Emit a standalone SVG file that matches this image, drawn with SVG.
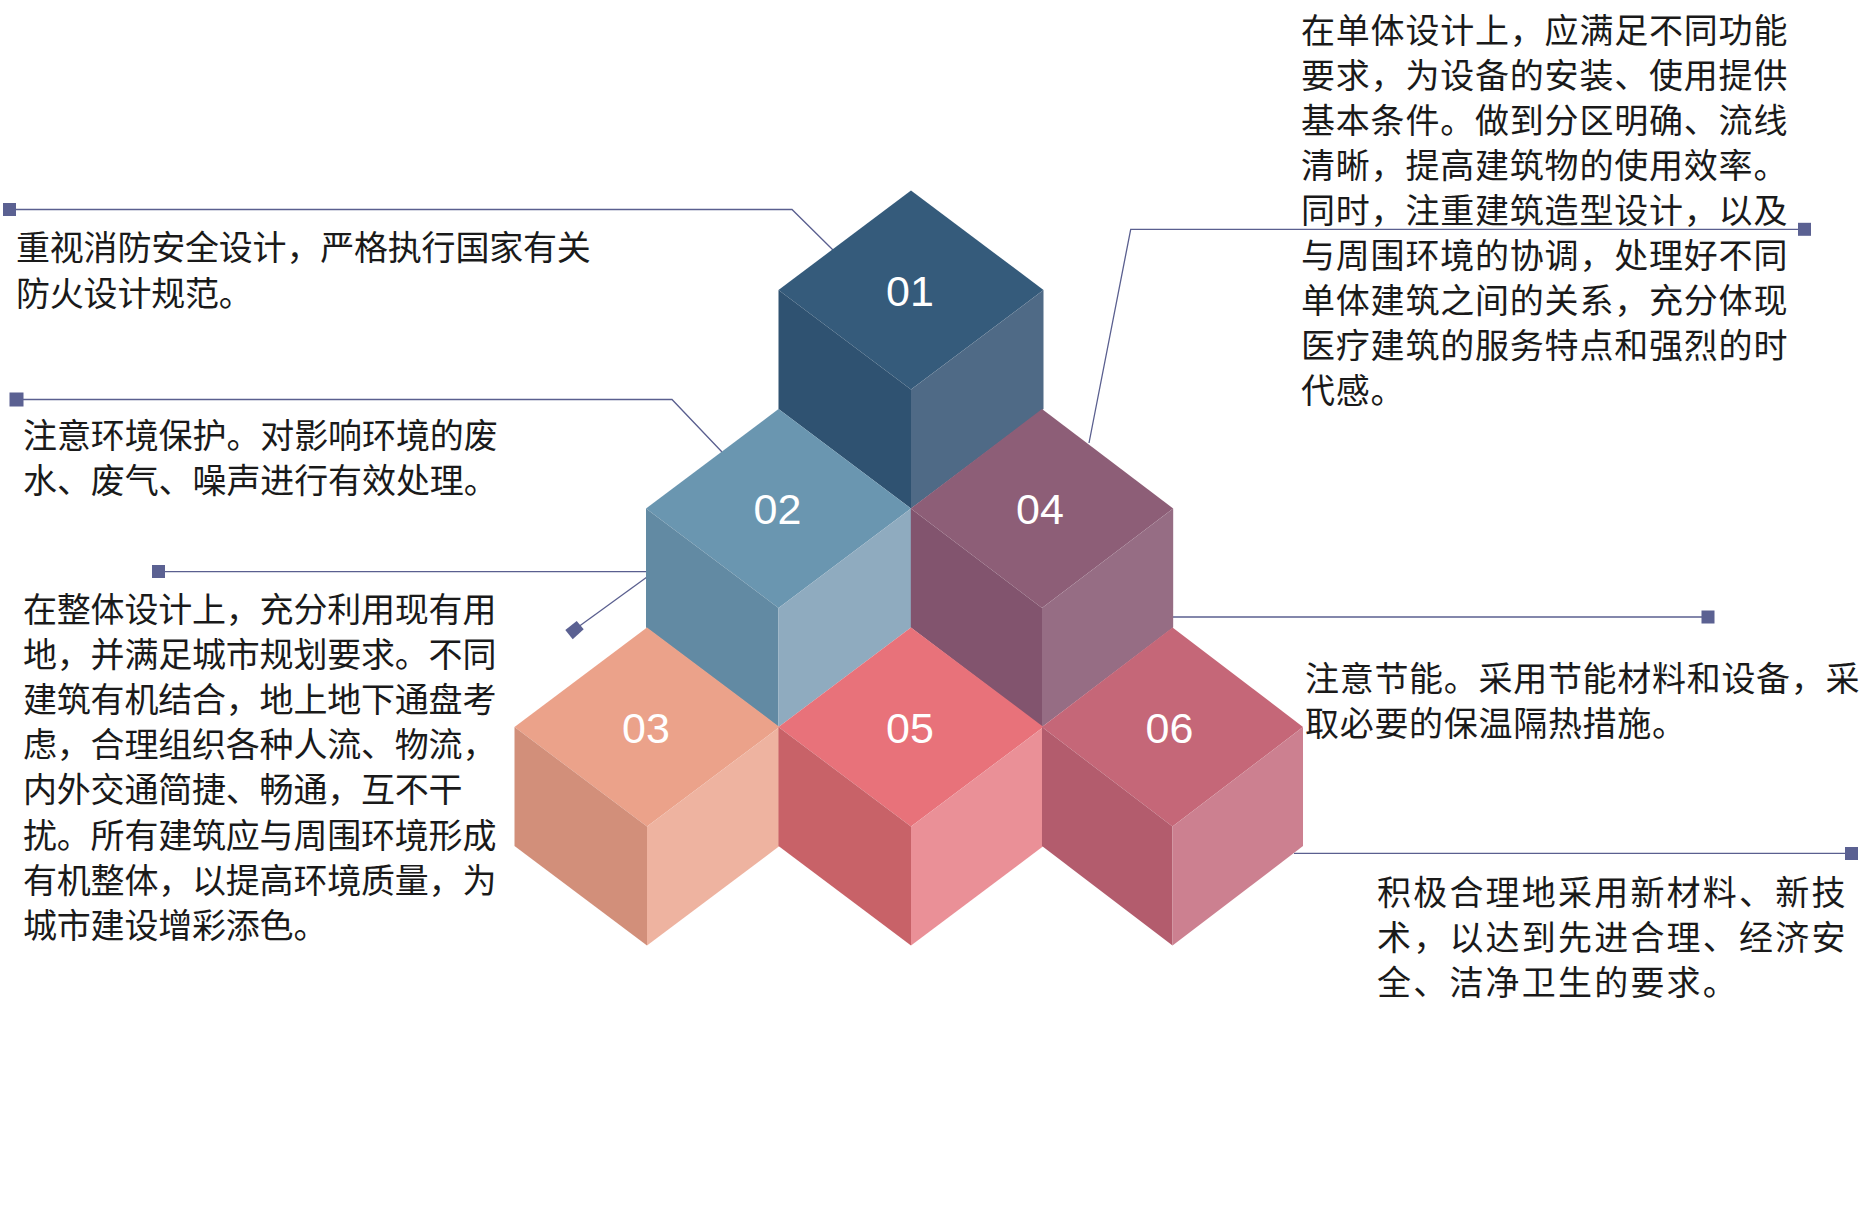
<svg xmlns="http://www.w3.org/2000/svg" width="1875" height="1224" viewBox="0 0 1875 1224">
<style>
.bg{fill:#ffffff}
.txt{font-family:"Noto Sans CJK SC","Noto Sans",sans-serif;font-size:34px;fill:#1a1a1a}
.num{font-family:"Liberation Sans",Arial,sans-serif;font-size:43px;fill:#ffffff;text-anchor:middle}
.ln{fill:none;stroke:#5a5f8f;stroke-width:1.3}
.mk{fill:#5b6192}
.c1t{fill:#355b7b}.c1l{fill:#2f5271}.c1r{fill:#4f6a86}
.c2t{fill:#6a96b0}.c2l{fill:#628aa3}.c2r{fill:#8fabbf}
.c4t{fill:#8d5e77}.c4l{fill:#82546e}.c4r{fill:#966d84}
.c3t{fill:#eba28a}.c3l{fill:#d28f7a}.c3r{fill:#eeb3a0}
.c5t{fill:#e8727a}.c5l{fill:#c86268}.c5r{fill:#ea9097}
.c6t{fill:#c56778}.c6l{fill:#b35c6d}.c6r{fill:#cc8090}
</style>
<defs>
<polygon id="ft" points="0,-99.5 132.5,0 0,99.5 -132.5,0"/>
<polygon id="fl" points="-132.5,0 0,99.5 0,218.5 -132.5,119"/>
<polygon id="fr" points="0,99.5 132.5,0 132.5,119 0,218.5"/>
</defs>
<rect class="bg" x="0" y="0" width="1875" height="1224"/>

<g id="connectors">
<polyline class="ln" points="10,209.5 792,209.5 833,250"/>
<rect class="mk" x="3" y="203" width="13" height="13"/>
<polyline class="ln" points="16,399.5 672,399.5 722,452"/>
<rect class="mk" x="9.5" y="392.5" width="14" height="14"/>
<polyline class="ln" points="158,571.7 647,571.7"/>
<rect class="mk" x="152" y="565" width="13" height="13"/>
<line class="ln" x1="647" y1="577" x2="574" y2="630"/>
<polygon class="mk" points="576.7,621 583.7,629.3 572.7,639.3 565.3,630"/>
<polyline class="ln" points="1089,443 1130.7,229.3 1804,229.3"/>
<rect class="mk" x="1798" y="222.8" width="13" height="13"/>
<line class="ln" x1="1172" y1="617" x2="1708" y2="617"/>
<rect class="mk" x="1701.5" y="610.5" width="13" height="13"/>
<line class="ln" x1="1294" y1="853.3" x2="1851" y2="853.3"/>
<rect class="mk" x="1845" y="847" width="13" height="13"/>
</g>

<g id="cube01" transform="translate(911,290)">
<use href="#ft" class="c1t"/><use href="#fl" class="c1l"/><use href="#fr" class="c1r"/>
<text class="num" x="-1" y="15.5">01</text>
</g>
<g id="cube02" transform="translate(778.5,508.5)">
<use href="#ft" class="c2t"/><use href="#fl" class="c2l"/><use href="#fr" class="c2r"/>
<text class="num" x="-1" y="15.5">02</text>
</g>
<g id="cube04" transform="translate(1042,508.5)">
<g transform="scale(0.99,1)"><use href="#ft" class="c4t"/><use href="#fl" class="c4l"/><use href="#fr" class="c4r"/></g>
<text class="num" x="-2" y="15.5">04</text>
</g>
<g id="cube03" transform="translate(647,727)">
<use href="#ft" class="c3t"/><use href="#fl" class="c3l"/><use href="#fr" class="c3r"/>
<text class="num" x="-1" y="15.5">03</text>
</g>
<g id="cube05" transform="translate(911,727)">
<use href="#ft" class="c5t"/><use href="#fl" class="c5l"/><use href="#fr" class="c5r"/>
<text class="num" x="-1" y="15.5">05</text>
</g>
<g id="cube06" transform="translate(1172.5,727)">
<g transform="scale(0.985,1)"><use href="#ft" class="c6t"/><use href="#fl" class="c6l"/><use href="#fr" class="c6r"/></g>
<text class="num" x="-3" y="15.5">06</text>
</g>

<g id="text1">
<text class="txt" letter-spacing="-0.2"><tspan x="16" y="260">重视消防安全设计，严格执行国家有关</tspan><tspan x="16" y="305.5">防火设计规范。</tspan></text>
</g>
<g id="text2">
<text class="txt" letter-spacing="-0.1"><tspan x="23" y="448">注意环境保护。对影响环境的废</tspan><tspan x="23" y="493.3">水、废气、噪声进行有效处理。</tspan></text>
</g>
<g id="text3">
<text class="txt" letter-spacing="-0.2"><tspan x="23" y="621.5">在整体设计上，充分利用现有用</tspan><tspan x="23" y="666.7">地，并满足城市规划要求。不同</tspan><tspan x="23" y="711.9">建筑有机结合，地上地下通盘考</tspan><tspan x="23" y="757.1">虑，合理组织各种人流、物流，</tspan><tspan x="23" y="802.3">内外交通简捷、畅通，互不干</tspan><tspan x="23" y="847.5">扰。所有建筑应与周围环境形成</tspan><tspan x="23" y="892.7">有机整体，以提高环境质量，为</tspan><tspan x="23" y="937.9">城市建设增彩添色。</tspan></text>
</g>
<g id="text4">
<text class="txt" letter-spacing="0.8"><tspan x="1301" y="43">在单体设计上，应满足不同功能</tspan><tspan x="1301" y="88">要求，为设备的安装、使用提供</tspan><tspan x="1301" y="133">基本条件。做到分区明确、流线</tspan><tspan x="1301" y="178">清晰，提高建筑物的使用效率。</tspan><tspan x="1301" y="223">同时，注重建筑造型设计，以及</tspan><tspan x="1301" y="268">与周围环境的协调，处理好不同</tspan><tspan x="1301" y="313">单体建筑之间的关系，充分体现</tspan><tspan x="1301" y="358">医疗建筑的服务特点和强烈的时</tspan><tspan x="1301" y="403">代感。</tspan></text>
</g>
<g id="text5">
<text class="txt" letter-spacing="0.7"><tspan x="1305" y="691">注意节能。采用节能材料和设备，采</tspan><tspan x="1305" y="736">取必要的保温隔热措施。</tspan></text>
</g>
<g id="text6">
<text class="txt" letter-spacing="2.2"><tspan x="1377" y="905">积极合理地采用新材料、新技</tspan><tspan x="1377" y="950">术，以达到先进合理、经济安</tspan><tspan x="1377" y="995">全、洁净卫生的要求。</tspan></text>
</g>
</svg>
